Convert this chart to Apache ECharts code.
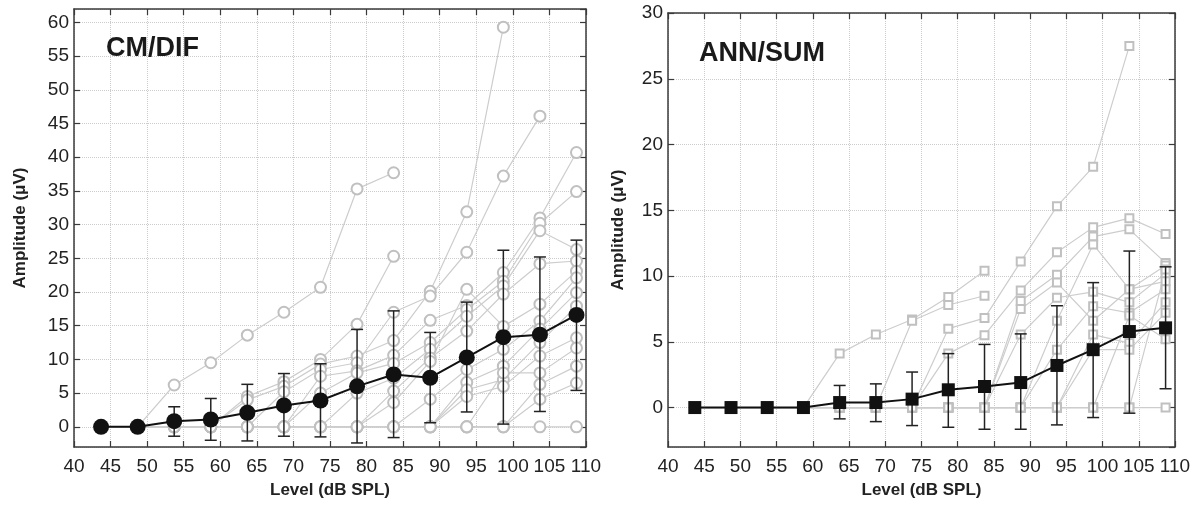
<!DOCTYPE html>
<html><head><meta charset="utf-8">
<script src="https://cdn.jsdelivr.net/npm/echarts@6/dist/echarts.min.js"></script>
<style>html,body{margin:0;padding:0;background:#fff}#c{width:1203px;height:506px}</style>
</head><body><div id="c"></div>
<script>
// ---- data ----
const levels = [43.7,48.7,53.7,58.7,63.7,68.7,73.7,78.7,83.7,88.7,93.7,98.7,103.7,108.7];
const xTicks = [40,45,50,55,60,65,70,75,80,85,90,95,100,105,110];
const cmYRange = [-3, 62];
const annYRange = [-3, 30];

// CM/DIF individual subjects (µV), null = not measured
const cm01 = [0,0,6.2,9.5,13.6,17.0,20.7,35.3,37.7,null,null,null,null,null];
const cm02 = [0,0,0,0,4.5,6.7,10.0,15.2,25.3,null,null,null,null,null];
const cm03 = [0,0,0,0,4.0,6.0,9.3,10.5,12.8,20.1,31.9,59.3,null,null];
const cm04 = [0,0,0,0,0,5.2,8.5,9.5,17.0,19.4,25.9,37.2,46.1,null];
const cm05 = [null,0,0,0,0,0,7.5,8.3,10.6,15.8,18.0,22.9,31.0,40.7];
const cm06 = [null,null,0,0,0,0,5.0,8.0,9.4,12.5,17.4,21.6,30.2,34.9];
const cm07 = [null,null,null,0,0,0,0,5.0,7.2,11.5,16.4,20.9,29.1,26.3];
const cm08 = [null,null,null,null,0,0,0,0,5.3,10.2,14.2,19.7,24.2,24.6];
const cm09 = [null,null,null,null,null,0,0,0,3.6,9.7,20.4,14.9,18.2,23.1];
const cm10 = [null,null,null,null,null,null,0,0,0,4.1,8.5,11.5,15.7,22.1];
const cm11 = [null,null,null,null,null,null,null,0,0,0,6.6,9.0,14.5,19.9];
const cm12 = [null,null,null,null,null,null,null,null,0,0,5.5,7.0,12.5,17.9];
const cm13 = [null,null,null,null,null,null,null,null,null,0,4.5,6.0,10.5,13.2];
const cm14 = [null,null,null,null,null,null,null,null,null,0,0,8.0,8.0,11.7];
const cm15 = [null,null,null,null,null,null,null,null,null,null,0,0,6.3,9.0];
const cm16 = [null,null,null,null,null,null,null,null,null,null,0,0,4.1,6.5];
const cm17 = [0,0,0,0,0,0,0,0,0,0,0,0,0,0];
const cmSubjects = [cm01,cm02,cm03,cm04,cm05,cm06,cm07,cm08,cm09,cm10,cm11,cm12,cm13,cm14,cm15,cm16,cm17];

const cmMean  = [0,0,0.83,1.08,2.08,3.17,3.9,6.0,7.77,7.28,10.3,13.3,13.67,16.6];
const cmUpper = [null,null,2.97,4.2,6.3,7.9,9.35,14.45,17.2,14.0,18.5,26.2,25.2,27.7];
const cmLower = [null,null,-1.4,-2.0,-2.1,-1.4,-1.5,-2.4,-1.6,0.6,2.2,0.4,2.27,5.4];

// ANN/SUM individual subjects (µV)
const an01 = [0,0,0,0,4.1,5.55,6.7,8.4,10.4,null,null,null,null,null];
const an02 = [0,0,0,0,0,0,6.6,7.8,8.5,null,null,null,null,null];
const an03 = [0,0,0,0,0,0,0,6.0,6.8,11.1,15.3,18.3,27.5,null];
const an04 = [null,0,0,0,0,0,0,4.1,5.5,8.9,11.8,13.7,14.4,13.2];
const an05 = [null,null,0,0,0,0,0,0,0,8.1,10.1,13.0,13.55,11.0];
const an06 = [null,null,null,0,0,0,0,0,0,7.5,9.5,6.6,9.0,10.8];
const an07 = [null,null,null,null,0,0,0,0,0,5.55,8.35,8.8,8.0,10.2];
const an08 = [null,null,null,null,null,0,0,0,0,0,6.6,12.4,9.0,9.6];
const an09 = [null,null,null,null,null,null,0,0,0,0,4.4,7.7,7.2,9.0];
const an10 = [null,null,null,null,null,null,null,0,0,0,0,5.55,4.9,8.0];
const an11 = [null,null,null,null,null,null,null,null,0,0,0,4.4,4.4,7.2];
const an12 = [null,null,null,null,null,null,null,null,null,0,0,0,7.0,5.2];
const an13 = [null,null,null,null,null,null,null,null,null,null,0,0,0,10.5];
const an14 = [0,0,0,0,0,0,0,0,0,0,0,0,0,0];
const annSubjects = [an01,an02,an03,an04,an05,an06,an07,an08,an09,an10,an11,an12,an13,an14];

const annMean  = [0,0,0,0,0.38,0.38,0.64,1.35,1.6,1.9,3.2,4.4,5.78,6.06];
const annUpper = [null,null,null,null,1.68,1.8,2.7,4.1,4.8,5.6,7.74,9.5,11.9,10.7];
const annLower = [null,null,null,null,-0.86,-1.07,-1.37,-1.5,-1.65,-1.65,-1.32,-0.76,-0.43,1.43];

// ---- chart ----
const FONT = 'Liberation Sans, Arial, Helvetica, sans-serif';
const frame = '#3a3a3a';
const greyLine = '#cdcdcd';
const greySym = '#c0c0c0';

function pairs(vals){ return levels.map((l,i)=>[l, vals[i]]).filter(p=>p[1]!==null); }
function errData(lo, hi){ return levels.map((l,i)=>[l, lo[i], hi[i]]).filter(p=>p[1]!==null); }

function errRender(params, api){
  const x = api.value(0), lo = api.value(1), hi = api.value(2);
  const a = api.coord([x, lo]), b = api.coord([x, hi]);
  const w = 6;
  const st = {stroke:'#222', lineWidth:1.5};
  return {type:'group', children:[
    {type:'line', shape:{x1:a[0],y1:a[1],x2:b[0],y2:b[1]}, style:st},
    {type:'line', shape:{x1:a[0]-w,y1:a[1],x2:a[0]+w,y2:a[1]}, style:st},
    {type:'line', shape:{x1:b[0]-w,y1:b[1],x2:b[0]+w,y2:b[1]}, style:st}
  ]};
}

function xAx(gi, pos, withLabels){
  return {
    type:'value', gridIndex:gi, position:pos,
    min:xTicks[0], max:xTicks[xTicks.length-1], interval:xTicks[1]-xTicks[0],
    name: withLabels ? 'Level (dB SPL)' : '',
    nameLocation:'middle', nameGap:35,
    nameTextStyle:{fontFamily:FONT, fontSize:17, fontWeight:'bold', color:'#222'},
    axisLine:{show:true, onZero:false, lineStyle:{color:frame, width:1.5}},
    axisTick:{show:true, inside:true, length:6, lineStyle:{color:frame, width:1.2}},
    axisLabel:{show:withLabels, fontFamily:FONT, fontSize:19, color:'#222', margin:10},
    splitLine:{show:withLabels, lineStyle:{color:'#cccccc', type:'dotted', width:1}}
  };
}
function yAx(gi, pos, range, split, withLabels, gap){
  return {
    type:'value', gridIndex:gi, position:pos,
    min:range[0], max:range[1], splitNumber:split,
    name: withLabels ? 'Amplitude (\u03BCV)' : '',
    nameLocation:'middle', nameGap:gap, nameRotate:90,
    nameTextStyle:{fontFamily:FONT, fontSize:17, fontWeight:'bold', color:'#222'},
    axisLine:{show:true, onZero:false, lineStyle:{color:frame, width:1.5}},
    axisTick:{show:true, inside:true, length:6, lineStyle:{color:frame, width:1.2}},
    axisLabel:{show:withLabels, fontFamily:FONT, fontSize:19, color:'#222', margin:5, showMinLabel:false,
      showMaxLabel: range[1] % 5 === 0},
    splitLine:{show:withLabels, lineStyle:{color:'#cccccc', type:'dotted', width:1}}
  };
}

const series = [];
cmSubjects.forEach(s=>series.push({
  type:'line', xAxisIndex:0, yAxisIndex:0, data:pairs(s), z:2,
  symbol:'emptyCircle', symbolSize:11, showAllSymbol:true,
  lineStyle:{color:greyLine, width:1.2}, itemStyle:{color:greySym, borderColor:greySym, borderWidth:1.2},
  emphasis:{disabled:true}, silent:true
}));
annSubjects.forEach(s=>series.push({
  type:'line', xAxisIndex:2, yAxisIndex:2, data:pairs(s), z:2,
  symbol:'emptyRect', symbolSize:8, showAllSymbol:true,
  lineStyle:{color:greyLine, width:1.2}, itemStyle:{color:greySym, borderColor:greySym, borderWidth:1.2},
  emphasis:{disabled:true}, silent:true
}));
series.push({type:'custom', xAxisIndex:0, yAxisIndex:0, z:3, renderItem:errRender,
  encode:{x:0, y:[1,2]}, data:errData(cmLower, cmUpper), silent:true});
series.push({type:'custom', xAxisIndex:2, yAxisIndex:2, z:3, renderItem:errRender,
  encode:{x:0, y:[1,2]}, data:errData(annLower, annUpper), silent:true});
series.push({type:'line', xAxisIndex:0, yAxisIndex:0, data:pairs(cmMean), z:4,
  symbol:'circle', symbolSize:16, showAllSymbol:true,
  lineStyle:{color:'#111', width:2}, itemStyle:{color:'#111'}, silent:true});
series.push({type:'line', xAxisIndex:2, yAxisIndex:2, data:pairs(annMean), z:4,
  symbol:'rect', symbolSize:13, showAllSymbol:true,
  lineStyle:{color:'#111', width:2}, itemStyle:{color:'#111'}, silent:true});

const option = {
  animation:false,
  backgroundColor:'#fff',
  title:[
    {text:'CM/DIF', left:101, top:30, textStyle:{fontFamily:FONT, fontSize:27, fontWeight:'bold', color:'#1a1a1a'}},
    {text:'ANN/SUM', left:694, top:35, textStyle:{fontFamily:FONT, fontSize:27, fontWeight:'bold', color:'#1a1a1a'}}
  ],
  grid:[
    {left:74, top:9, width:512, height:438, containLabel:false},
    {left:668, top:13, width:507, height:434, containLabel:false}
  ],
  xAxis:[ xAx(0,'bottom',true), xAx(0,'top',false), xAx(1,'bottom',true), xAx(1,'top',false) ],
  yAxis:[ yAx(0,'left',cmYRange,13,true,45), yAx(0,'right',cmYRange,13,false,0),
          yAx(1,'left',annYRange,6,true,41), yAx(1,'right',annYRange,6,false,0) ],
  series
};
const chart = echarts.init(document.getElementById('c'), null, {renderer:'canvas'});
chart.setOption(option);
</script></body></html>
